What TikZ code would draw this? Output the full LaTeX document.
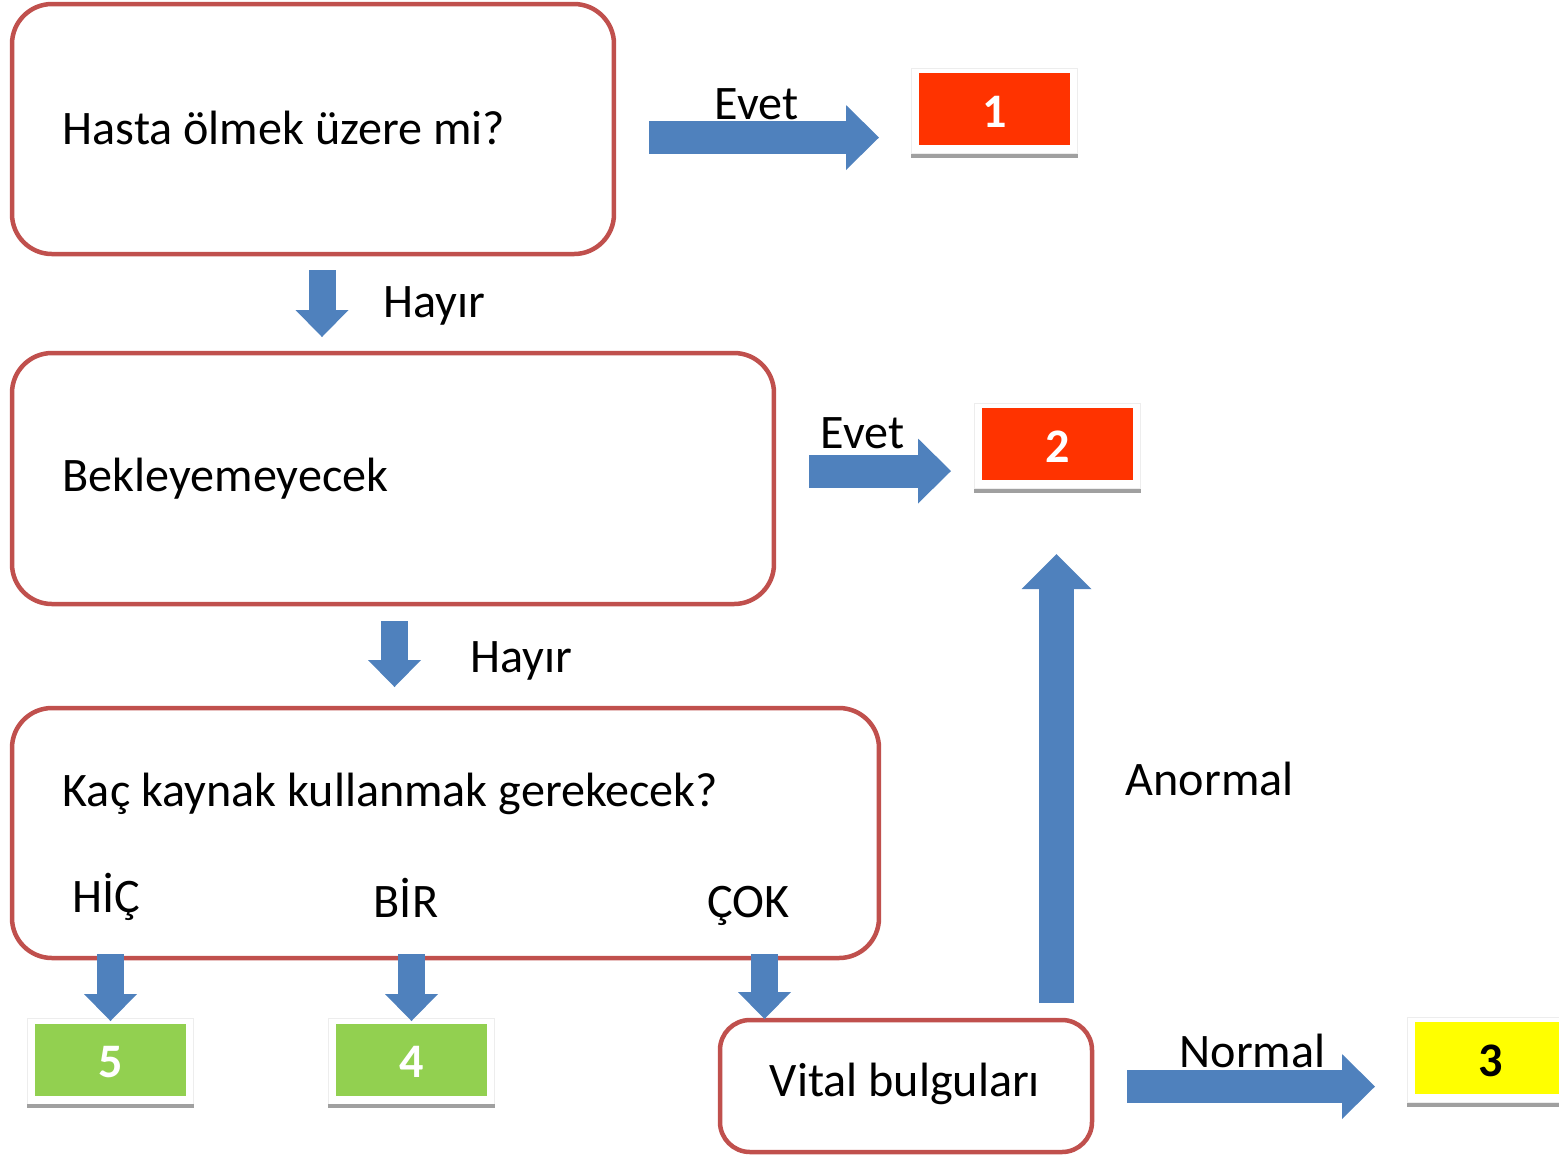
\documentclass[tikz,border=0pt]{standalone}
\usepackage{fontspec}
\setmainfont{Carlito}
\usetikzlibrary{arrows.meta,backgrounds}
\definecolor{TriageRim}{HTML}{C0504D}
\definecolor{TriageFlow}{HTML}{4F81BD}
\definecolor{TriageRed}{HTML}{FF3300}
\definecolor{TriageGreen}{HTML}{92D050}
\definecolor{TriageYellow}{HTML}{FFFF00}
\definecolor{TriageShelf}{HTML}{A0A0A0}
\newcommand\triagesize{\fontsize{13.7}{16}\selectfont}
\tikzset{
  question/.style={draw=TriageRim, fill=white, line width=.45mm, rounded corners=4mm, inner sep=0pt},
  level/.style={fill=#1, minimum width=15.1mm, minimum height=7.2mm, inner sep=0pt, text height=3.6mm, text depth=0pt, font=\triagesize\bfseries, text=white},
  rim/.style={draw=black!7, fill=white, line width=.2pt},
  shelf/.style={fill=TriageShelf},
  answer/.style={inner sep=0pt, anchor=base west},
  wide/.style={draw=TriageFlow, line width=3.3mm, -{Triangle[length=3.3mm 0 0, width=6.5mm 0 0, line width=0pt 0 0]}},
  narrow/.style={draw=TriageFlow, line width=2.7mm, -{Triangle[length=2.7mm 0 0, width=5.3mm 0 0, line width=0pt 0 0]}},
  tall/.style={draw=TriageFlow, line width=3.5mm, -{Triangle[length=3.5mm 0 0, width=7mm 0 0, line width=0pt 0 0]}},
}

\begin{document}
\begin{tikzpicture}[x=.1mm, y=-.1mm, font=\triagesize]
  \useasboundingbox (0,0) rectangle (1559,1155);
  % questions
  \node[question, minimum width=60.2mm, minimum height=25mm] (alive) at (313,129) {};
  \node[answer] (aliveq) at (62,144) {Hasta ölmek üzere mi?};
  \node[question, minimum width=76.2mm, minimum height=25.1mm] (wait) at (393,478.5) {};
  \node[answer] (waitq) at (62,491) {Bekleyemeyecek};
  \node[question, minimum width=86.7mm, minimum height=25mm] (need) at (445.5,833) {};
  \node[answer] (needq) at (62,806) {Kaç kaynak kullanmak gerekecek?};
  \node[answer] (none) at (72,912) {HİÇ};
  \node[answer] (one) at (373,917) {BİR};
  \node[answer] (many) at (707,917) {ÇOK};
  \node[question, rounded corners=3mm, minimum width=37.2mm, minimum height=13.2mm] (vital) at (906,1086) {};
  \node[answer] (vitalq) at (769,1096) {Vital bulguları};
  % levels
  \node[level=TriageRed] (lv1) at (994.5,109) {1};
  \node[level=TriageRed] (lv2) at (1057.5,444) {2};
  \node[level=TriageYellow, text=black] (lv3) at (1490.5,1058) {3};
  \node[level=TriageGreen] (lv4) at (411.5,1059.5) {4};
  \node[level=TriageGreen] (lv5) at (110.5,1059.5) {5};
  \begin{scope}[on background layer]
    \foreach \t in {lv1,lv2,lv3,lv4,lv5} {
      \draw[rim] ([shift={(-.7mm,-.8mm)}]\t.south west) rectangle ([shift={(.7mm,.4mm)}]\t.north east);
      \fill[shelf] ([shift={(-.7mm,-.8mm)}]\t.south west) rectangle ([shift={(.7mm,-1.2mm)}]\t.south east);
    }
  \end{scope}
  % arrow ends
  \coordinate (yes1s) at (649,137.5);
  \coordinate (yes1e) at (879,137.5);
  \coordinate (no1s) at (322,270);
  \coordinate (no1e) at (322,337);
  \coordinate (yes2s) at (809,471);
  \coordinate (yes2e) at (951,471);
  \coordinate (no2s) at (394.5,621);
  \coordinate (no2e) at (394.5,687);
  \coordinate (hics) at (110.5,954);
  \coordinate (hice) at (110.5,1021);
  \coordinate (birs) at (411.5,954);
  \coordinate (bire) at (411.5,1021);
  \coordinate (coks) at (764.5,954);
  \coordinate (coke) at (764.5,1019);
  \coordinate (abns) at (1056.5,1003);
  \coordinate (abne) at (1056.5,554);
  \coordinate (nrms) at (1127,1086.5);
  \coordinate (nrme) at (1375,1086.5);
  \draw[wide] (yes1s) -- (yes1e);
  \draw[narrow] (no1s) -- (no1e);
  \draw[wide] (yes2s) -- (yes2e);
  \draw[narrow] (no2s) -- (no2e);
  \draw[narrow] (hics) -- (hice);
  \draw[narrow] (birs) -- (bire);
  \draw[narrow] (coks) -- (coke);
  \draw[tall] (abns) -- (abne);
  \draw[wide] (nrms) -- (nrme);
  % labels
  \node[answer] (lyes1) at (714,119) {Evet};
  \node[answer] (lno1) at (383,317) {Hayır};
  \node[answer] (lyes2) at (820,448) {Evet};
  \node[answer] (lno2) at (470,672) {Hayır};
  \node[answer] (labn) at (1125,795) {Anormal};
  \node[answer] (lnrm) at (1179,1067) {Normal};
\end{tikzpicture}
\end{document}
